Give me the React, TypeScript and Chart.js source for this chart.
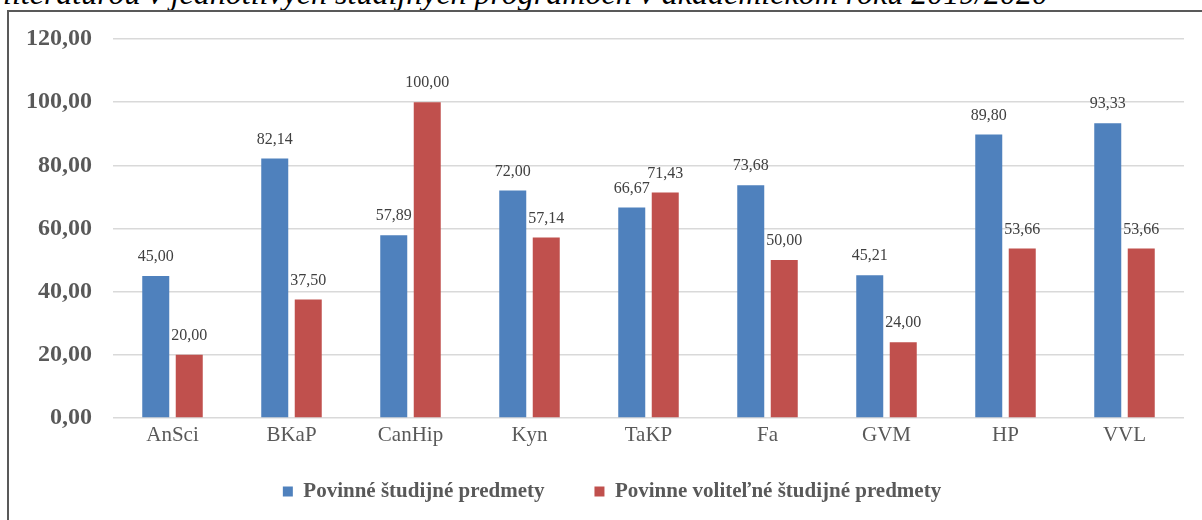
import React, { useEffect, useRef } from "react";
import { Chart, registerables } from "chart.js";

Chart.register(...registerables);

const categories = ["AnSci", "BKaP", "CanHip", "Kyn", "TaKP", "Fa", "GVM", "HP", "VVL"];
const povinne = [45.0, 82.14, 57.89, 72.0, 66.67, 73.68, 45.21, 89.8, 93.33];
const volitelne = [20.0, 37.5, 100.0, 57.14, 71.43, 50.0, 24.0, 53.66, 53.66];
const seriesNames = ["Povinné študijné predmety", "Povinne voliteľné študijné predmety"];
const titleText = "literatúrou v jednotlivých študijných programoch v akademickom roku 2019/2020";

const SERIF = "'Times New Roman', 'Liberation Serif', serif";
const fmt = (v: number) => v.toFixed(2).replace(".", ",");

const dataLabels = {
  id: "dataLabels",
  afterDatasetsDraw(chart: any) {
    const ctx = chart.ctx;
    ctx.save();
    ctx.font = `16px ${SERIF}`;
    ctx.fillStyle = "#404040";
    ctx.textAlign = "center";
    ctx.textBaseline = "middle";
    chart.data.datasets.forEach((ds: any, i: number) => {
      const meta = chart.getDatasetMeta(i);
      meta.data.forEach((el: any, j: number) => {
        ctx.fillText(fmt(ds.data[j]), el.x, el.y - 19);
      });
    });
    ctx.restore();
  },
};

// move the legend's drawing origin so it sits where the reference places it
const legendShift = {
  id: "legendShift",
  afterLayout(chart: any) {
    const lg = chart.legend;
    if (!lg) return;
    const dy = -27;
    const dx = 20;
    lg.top += dy;
    lg.left += dx;
    lg.right += dx;
  },
};

export default function App() {
  const ref = useRef<HTMLCanvasElement>(null);
  useEffect(() => {
    if (!ref.current) return;
    const chart = new Chart(ref.current, {
      type: "bar",
      data: {
        labels: categories,
        datasets: [
          {
            label: seriesNames[0],
            data: povinne,
            backgroundColor: "#4F81BD",
            categoryPercentage: 0.563,
            barPercentage: 0.806,
          },
          {
            label: seriesNames[1],
            data: volitelne,
            backgroundColor: "#C0504D",
            categoryPercentage: 0.563,
            barPercentage: 0.806,
          },
        ],
      },
      options: {
        animation: false,
        responsive: false,
        maintainAspectRatio: false,
        layout: { padding: { top: 39, right: 18, bottom: 9, left: 0 } },
        plugins: {
          legend: {
            position: "bottom",
            maxHeight: 53,
            labels: {
              boxWidth: 10,
              boxHeight: 10,
              padding: 50,
              color: "#595959",
              font: { family: SERIF, size: 21, weight: "bold" },
            },
          },
          tooltip: { enabled: false },
          title: { display: false },
        },
        scales: {
          x: {
            grid: { display: false, drawTicks: false },
            border: { display: false },
            ticks: {
              color: "#595959",
              font: { family: SERIF, size: 21 },
              padding: 5,
            },
            afterFit: (s: any) => {
              s.height = 40;
            },
          },
          y: {
            min: 0,
            max: 120,
            grid: { color: "#d9d9d9", lineWidth: 1.5, drawTicks: false },
            border: { display: false },
            ticks: {
              stepSize: 20,
              color: "#595959",
              font: { family: SERIF, size: 24, weight: "bold" },
              padding: 21,
              callback: (v: any) => fmt(Number(v)),
            },
            afterFit: (s: any) => {
              s.width = 113;
            },
          },
        },
      },
      plugins: [dataLabels, legendShift],
    });
    return () => chart.destroy();
  }, []);

  return (
    <div style={{ position: "fixed", left: 0, top: 0, width: 1202, height: 520, overflow: "hidden", background: "#fff" }}>
      <div
        style={{
          position: "absolute",
          left: 3,
          top: -23,
          whiteSpace: "nowrap",
          fontFamily: SERIF,
          fontStyle: "italic",
          fontSize: 32,
          lineHeight: "32px",
          color: "#000",
        }}
      >
        {titleText}
      </div>
      <div
        style={{
          position: "absolute",
          left: 7,
          top: 10,
          width: 1400,
          height: 700,
          border: "2px solid #595959",
          boxSizing: "border-box",
        }}
      />
      <canvas ref={ref} width={1202} height={520} style={{ position: "absolute", left: 0, top: 0 }} />
    </div>
  );
}
